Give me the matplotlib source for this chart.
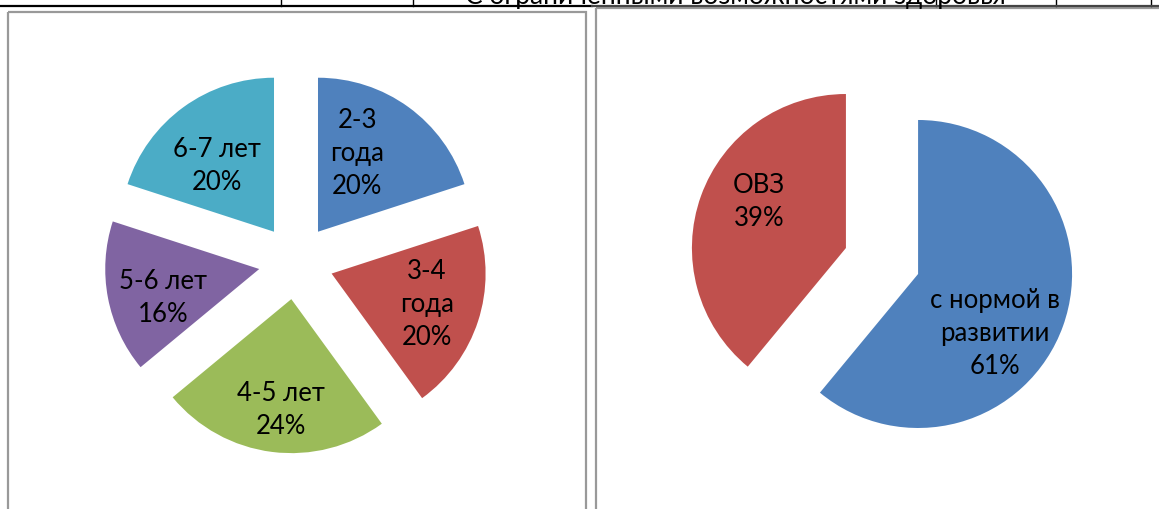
import numpy as np
import matplotlib
matplotlib.use("Agg")
import matplotlib.pyplot as plt
from matplotlib.patches import Rectangle

plt.rcParams["font.family"] = ["Lato", "DejaVu Sans"]

# возраст детей
age_labels = ["2-3\nгода", "3-4\nгода", "4-5 лет", "5-6 лет", "6-7 лет"]
age_values = [20, 20, 24, 16, 20]
age_colors = ["#4F81BD", "#C0504D", "#9BBB59", "#8064A2", "#4BACC6"]

# здоровье
health_labels = ["с нормой в\nразвитии", "ОВЗ"]
health_values = [61, 39]
health_colors = ["#4F81BD", "#C0504D"]

header_text = "С ограниченными возможностями здоровья"

W, H = 1159, 509
R = 154  # радиус круга, px
fig = plt.figure(figsize=(W / 100, H / 100), dpi=100)

# фон: кусок таблицы сверху и рамки диаграмм
bg = fig.add_axes([0, 0, 1, 1])
bg.set_xlim(0, W)
bg.set_ylim(H, 0)
bg.axis("off")
for x in [281, 413, 518, 936, 1056, 1151]:
    bg.plot([x, x], [0, 5.5], color="black", lw=1)
bg.plot([0, 592], [5.5, 5.5], color="black", lw=1.6)
bg.plot([592, W], [6, 6], color="#444444", lw=1.6)
bg.add_patch(Rectangle((7.5, 11.5), 578, 520, fill=False, ec="#999999", lw=1.6))
bg.add_patch(Rectangle((596, 7.5), 600, 520, fill=False, ec="#999999", lw=1.6))
bg.text(735, 3.5, header_text, ha="center", va="baseline", fontsize=19)


def draw_pie(cx, cy, values, labels, colors, explode, label_r, label_da):
    size = 2.5 * R
    ax = fig.add_axes([(cx - size / 2) / W, (H - cy - size / 2) / H, size / W, size / H])
    wedges, _ = ax.pie(values, colors=colors, startangle=90, counterclock=False,
                       explode=[explode] * len(values), radius=1,
                       wedgeprops=dict(linewidth=0))
    ax.set_xlim(-1.25, 1.25)
    ax.set_ylim(-1.25, 1.25)
    ax.set_aspect("equal")
    ax.axis("off")
    for w, lab, val, fr, da in zip(wedges, labels, values, label_r, label_da):
        mid = np.deg2rad((w.theta1 + w.theta2) / 2 + da)
        x = w.center[0] + fr * w.r * np.cos(mid)
        y = w.center[1] + fr * w.r * np.sin(mid)
        ax.text(x, y, "{}\n{}%".format(lab, val), ha="center", va="center",
                fontsize=18.5, linespacing=1.4, color="black")


draw_pie(296, 262, age_values, age_labels, age_colors, 0.243,
         [0.57, 0.65, 0.72, 0.65, 0.565], [9.6, 0, 2, 6, 5])
draw_pie(882, 261, health_values, health_labels, health_colors, 0.249,
         [0.63, 0.64], [-17.7, -8.1])

fig.savefig("out.png", dpi=100)
